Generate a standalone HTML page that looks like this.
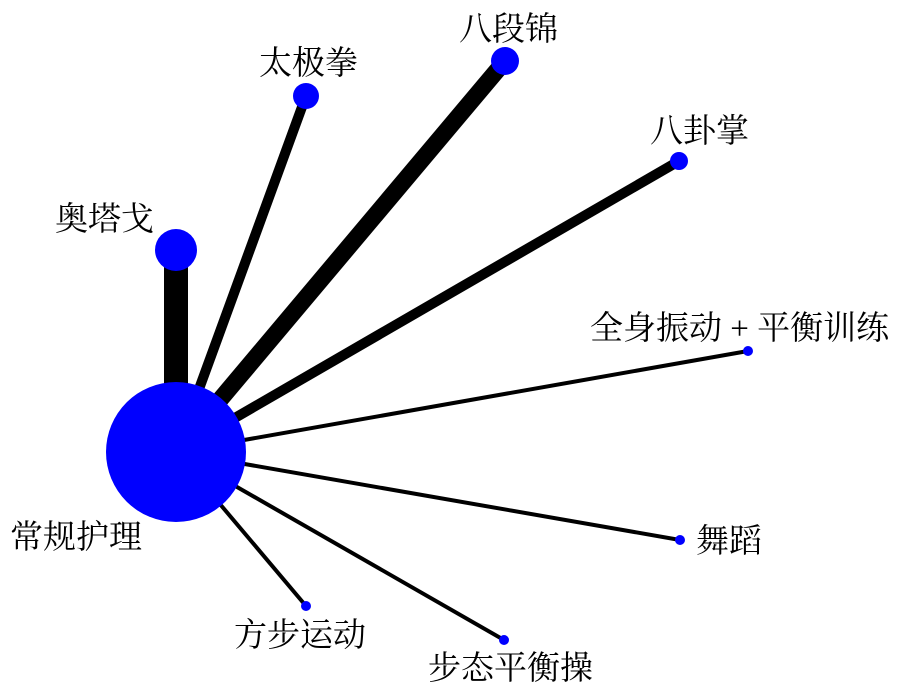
<!DOCTYPE html>
<html><head><meta charset="utf-8"><style>
html,body{margin:0;padding:0;background:#fff;}
svg{display:block}
text{font-family:"Liberation Serif","Noto Serif CJK SC",serif;font-size:33px;fill:#000;}
</style></head><body>
<svg width="902" height="691" viewBox="0 0 902 691" xmlns="http://www.w3.org/2000/svg">
<g stroke="#000" stroke-linecap="butt">
<line x1="176" y1="452" x2="176" y2="250" stroke-width="24"/>
<line x1="176" y1="452" x2="306" y2="96" stroke-width="10"/>
<line x1="176" y1="452" x2="505" y2="61" stroke-width="17"/>
<line x1="176" y1="452" x2="679" y2="161" stroke-width="10"/>
<line x1="176" y1="452" x2="748" y2="351" stroke-width="4"/>
<line x1="176" y1="452" x2="680" y2="540" stroke-width="4"/>
<line x1="176" y1="452" x2="504" y2="640" stroke-width="4"/>
<line x1="176" y1="452" x2="306" y2="606" stroke-width="4"/>
</g>
<g fill="#0000ff">
<circle cx="176" cy="452" r="70"/>
<circle cx="176" cy="250" r="21"/>
<circle cx="306" cy="96" r="13"/>
<circle cx="505" cy="61" r="14"/>
<circle cx="679" cy="161" r="9"/>
<circle cx="748" cy="351" r="5"/>
<circle cx="680" cy="540" r="5"/>
<circle cx="504" cy="640" r="5"/>
<circle cx="306" cy="606" r="5"/>
</g>
<text x="55" y="230">奥塔戈</text>
<text x="259" y="74">太极拳</text>
<text x="459" y="40">八段锦</text>
<text x="650" y="142">八卦掌</text>
<text x="590" y="339">全身振动 + 平衡训练</text>
<text x="696" y="552">舞蹈</text>
<text x="428" y="679">步态平衡操</text>
<text x="234" y="646">方步运动</text>
<text x="10" y="548">常规护理</text>
</svg>
</body></html>
